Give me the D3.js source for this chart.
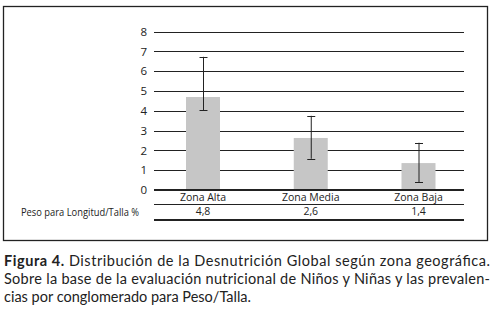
<!DOCTYPE html>
<html>
<head>
<meta charset="utf-8">
<script src="https://cdn.jsdelivr.net/npm/d3@7"></script>
<style>
  body { margin: 0; background: #fff; }
  text { font-family: "Open Sans", "Noto Sans", sans-serif; fill: #222; }
</style>
</head>
<body>
<div id="container"></div>
<script>
const categories = ["Zona Alta", "Zona Media", "Zona Baja"];
const values = [4.7, 2.63, 1.36];
const errLow = [4.02, 1.58, 0.39];
const errHigh = [6.73, 3.75, 2.39];
const tableLabels = ["4,8", "2,6", "1,4"];
const rowLabel = "Peso para Longitud/Talla %";
const yTicks = [0, 1, 2, 3, 4, 5, 6, 7, 8];
const captionLines = [
  ["Figura 4.", " Distribución de la Desnutrición Global según zona geográfica."],
  ["", "Sobre la base de la evaluación nutricional de Niños y Niñas y las prevalen-"],
  ["", "cias por conglomerado para Peso/Talla."],
];

const width = 496, height = 311;
const svg = d3
  .select("#container")
  .append("svg")
  .attr("width", width)
  .attr("height", height);

// frame round the chart
svg
  .append("rect")
  .attr("x", 3.5)
  .attr("y", 6.5)
  .attr("width", 484)
  .attr("height", 234)
  .attr("fill", "none")
  .attr("stroke", "#222")
  .attr("stroke-width", 1.3);

const x0 = 154, x1 = 464;
const yScale = d3.scaleLinear().domain([0, 8]).range([190, 31.7]);
const xScale = d3.scalePoint().domain(categories).range([203, 418.5]);
const barW = 34;

// gridlines
svg
  .selectAll(".grid")
  .data(yTicks.filter((d) => d > 0))
  .enter()
  .append("line")
  .attr("x1", x0)
  .attr("x2", x1)
  .attr("y1", (d) => Math.round(yScale(d)) + 0.5)
  .attr("y2", (d) => Math.round(yScale(d)) + 0.5)
  .attr("stroke", "#222")
  .attr("stroke-width", 1);

// y labels
const yAxis = d3.axisLeft(yScale).tickValues(yTicks).tickSize(0).tickPadding(0);
const yg = svg.append("g").attr("transform", "translate(147,0)").call(yAxis);
yg.select(".domain").remove();
yg.selectAll("text")
  .style("font-size", "11.5px")
  .style("font-family", '"Open Sans", sans-serif')
  .attr("fill", "#222");

// bars
svg
  .selectAll(".bar")
  .data(categories)
  .enter()
  .append("rect")
  .attr("x", (d) => xScale(d) - barW / 2)
  .attr("width", barW)
  .attr("y", (d, i) => yScale(values[i]))
  .attr("height", (d, i) => yScale(0) - yScale(values[i]))
  .attr("fill", "#c6c6c6");

// error bars
const eb = svg.selectAll(".err").data(categories).enter().append("g");
eb.append("line")
  .attr("x1", (d) => xScale(d) + 0.5)
  .attr("x2", (d) => xScale(d) + 0.5)
  .attr("y1", (d, i) => yScale(errLow[i]))
  .attr("y2", (d, i) => yScale(errHigh[i]))
  .attr("stroke", "#222");
[errLow, errHigh].forEach((arr) => {
  eb.append("line")
    .attr("x1", (d) => xScale(d) - 3.5)
    .attr("x2", (d) => xScale(d) + 4.5)
    .attr("y1", (d, i) => Math.round(yScale(arr[i])) + 0.5)
    .attr("y2", (d, i) => Math.round(yScale(arr[i])) + 0.5)
    .attr("stroke", "#222");
});

// baseline
svg
  .append("line")
  .attr("x1", x0)
  .attr("x2", x1)
  .attr("y1", yScale(0))
  .attr("y2", yScale(0))
  .attr("stroke", "#222")
  .attr("stroke-width", 2);

// data table
svg
  .selectAll(".cat")
  .data(categories)
  .enter()
  .append("text")
  .attr("x", (d) => xScale(d))
  .attr("y", 201)
  .attr("text-anchor", "middle")
  .style("font-size", "10.5px")
  .text((d) => d);
svg
  .append("line")
  .attr("x1", x0)
  .attr("x2", x1)
  .attr("y1", 204.5)
  .attr("y2", 204.5)
  .attr("stroke", "#222");
svg
  .selectAll(".val")
  .data(tableLabels)
  .enter()
  .append("text")
  .attr("x", (d, i) => xScale(categories[i]))
  .attr("y", 215)
  .attr("text-anchor", "middle")
  .style("font-size", "10.5px")
  .text((d) => d);
svg
  .append("text")
  .attr("x", 21)
  .attr("y", 216)
  .attr("textLength", 118)
  .attr("lengthAdjust", "spacingAndGlyphs")
  .style("font-size", "10px")
  .text(rowLabel);
svg
  .append("line")
  .attr("x1", x0)
  .attr("x2", x1)
  .attr("y1", 220)
  .attr("y2", 220)
  .attr("stroke", "#222")
  .attr("stroke-width", 2);

// caption
captionLines.forEach((ln, i) => {
  const t = svg
    .append("text")
    .attr("x", 4)
    .attr("y", 266 + i * 18)
    .style("font-family", "Lato, sans-serif")
    .style("font-size", "14.5px")
    .attr("fill", "#1a1a1a");
  if (i < 2) t.attr("textLength", 486).attr("lengthAdjust", "spacing");
  if (ln[0]) t.append("tspan").style("font-weight", "bold").text(ln[0]);
  t.append("tspan").text(ln[1]);
});
</script>
</body>
</html>
